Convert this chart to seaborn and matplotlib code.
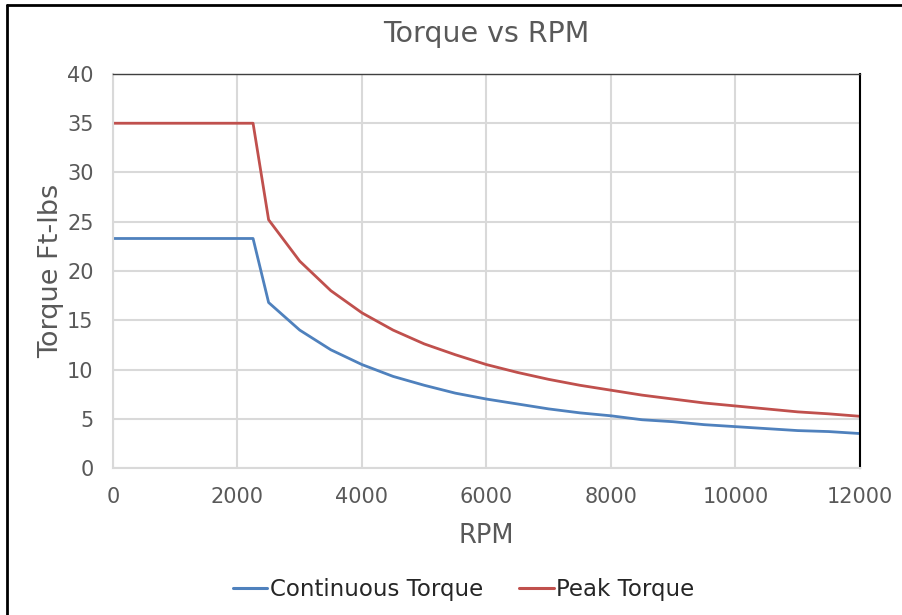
import pandas as pd
import matplotlib.pyplot as plt
import seaborn as sns
from matplotlib.lines import Line2D

# RPM points and torque values
rpm = [0, 2250, 2500, 3000, 3500, 4000, 4500, 5000, 5500, 6000, 6500, 7000,
       7500, 8000, 8500, 9000, 9500, 10000, 10500, 11000, 11500, 12000]
continuous_torque = [23.3, 23.3, 16.8, 14.0, 12.0, 10.5, 9.3, 8.4, 7.6, 7.0, 6.5, 6.0,
                     5.6, 5.3, 4.9, 4.7, 4.4, 4.2, 4.0, 3.8, 3.7, 3.5]
peak_torque = [35.0, 35.0, 25.2, 21.0, 18.0, 15.75, 14.0, 12.6, 11.5, 10.5, 9.7, 9.0,
               8.4, 7.9, 7.4, 7.0, 6.6, 6.3, 6.0, 5.7, 5.5, 5.25]
series_names = ["Continuous Torque", "Peak Torque"]
x_ticks = [0, 2000, 4000, 6000, 8000, 10000, 12000]
y_ticks = [0, 5, 10, 15, 20, 25, 30, 35, 40]

# Long form table for seaborn
df = pd.concat([
    pd.DataFrame({"RPM": rpm, "Torque": continuous_torque, "Series": series_names[0]}),
    pd.DataFrame({"RPM": rpm, "Torque": peak_torque, "Series": series_names[1]}),
])

sns.set_style("white")
plt.rcParams["font.family"] = ["DejaVu Sans"]

fig = plt.figure(figsize=(9.02, 6.15), dpi=100)
ax = fig.add_axes([0.1253, 0.239, 0.828, 0.6407])

sns.lineplot(data=df, x="RPM", y="Torque", hue="Series",
             palette=["#4F81BD", "#C0504D"], linewidth=2.0, ax=ax, legend=False)

ax.set_xlim(0, 12000)
ax.set_ylim(0, 40)
ax.set_xticks(x_ticks)
ax.set_yticks(y_ticks)
ax.grid(True, color="#D9D9D9", linewidth=1.5)
ax.set_axisbelow(True)
ax.tick_params(axis="both", labelsize=15, colors="#595959", length=0)
ax.tick_params(axis="x", pad=14)
ax.tick_params(axis="y", pad=14)

for side in ["left", "bottom"]:
    ax.spines[side].set_color("#D9D9D9")
    ax.spines[side].set_linewidth(1.5)
ax.spines["top"].set_color("#404040")
ax.spines["top"].set_linewidth(1.0)
ax.spines["right"].set_color("#000000")
ax.spines["right"].set_linewidth(1.5)

ax.set_title("Torque vs RPM", fontsize=20.5, color="#595959", pad=23)
ax.set_xlabel("RPM", fontsize=18.5, color="#595959", labelpad=11)
ax.set_ylabel("Torque Ft-lbs", fontsize=19.5, color="#595959", labelpad=2)

handles = [Line2D([], [], color="#4F81BD", linewidth=2.2),
           Line2D([], [], color="#C0504D", linewidth=2.2)]
fig.legend(handles, series_names, loc="center", bbox_to_anchor=(0.514, 0.041),
           ncol=2, frameon=False, fontsize=16.5, handlelength=1.5, handletextpad=0.1,
           columnspacing=1.6, labelcolor="#262626")

# Frame lines on the top and left of the picture
fig.add_artist(Line2D([0.008, 1.0], [0.992, 0.992], color="black", linewidth=2,
                      transform=fig.transFigure))
fig.add_artist(Line2D([0.008, 0.008], [0.0, 0.992], color="black", linewidth=2,
                      transform=fig.transFigure))

fig.savefig("out.png", dpi=100)
